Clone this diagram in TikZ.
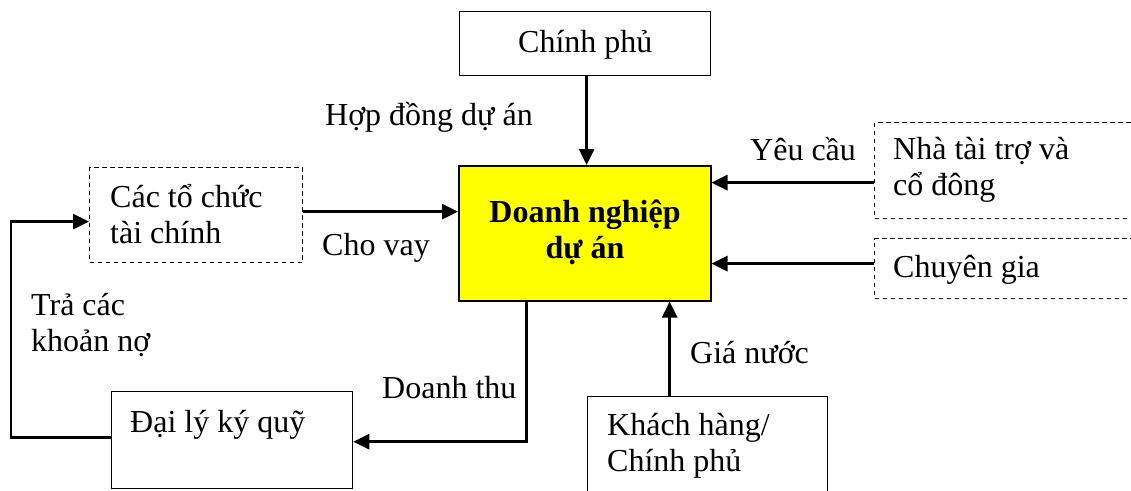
\documentclass[tikz,border=0pt]{standalone}
\usepackage{fontspec}
\setmainfont{Liberation Serif}
\usetikzlibrary{arrows.meta}
\definecolor{boxyellow}{RGB}{255,255,0}
\begin{document}
\begin{tikzpicture}[x=1pt,y=-1pt,
  every node/.style={font=\fontsize{32}{36}\selectfont},
  solidbox/.style={draw, line width=1.3pt, inner sep=0pt, anchor=north west},
  dashbox/.style={draw, line width=1.2pt, dash pattern=on 4.5pt off 3.5pt, inner sep=0pt, anchor=north west},
  mainbox/.style={draw, line width=1.5pt, fill=boxyellow, inner sep=0pt, anchor=north west},
  lbl/.style={inner sep=0pt, anchor=base west, align=left},
  flow/.style={line width=2.8pt, -{Triangle[length=16pt,width=15pt]}}
]
\useasboundingbox (0,0) rectangle (1131,490);

% boxes
\node[solidbox, minimum width=251pt, minimum height=64pt] (cp) at (459,11) {};
\node[mainbox, minimum width=252pt, minimum height=135pt] (dn) at (458,165) {};
\node[dashbox, minimum width=213pt, minimum height=95pt] (ctc) at (89,167) {};
\node[solidbox, minimum width=241pt, minimum height=97pt] (dl) at (111,391) {};
\node[solidbox, minimum width=240pt, minimum height=130pt] (kh) at (587,396) {};
\node[dashbox, minimum width=300pt, minimum height=96pt] (ntt) at (874,122) {};
\node[dashbox, minimum width=300pt, minimum height=60pt] (cg) at (874,238) {};

% box texts (multi-line nodes are placed by the baseline of their last line)
\node[lbl] (tcp) at (518,52) {Chính phủ};
\node[inner sep=0pt, anchor=base, align=center, font=\fontsize{32}{36}\selectfont\bfseries] (tdn) at (585,258) {Doanh nghiệp\\dự án};
\node[lbl] (tctc) at (110,243) {Các tổ chức\\tài chính};
\node[lbl] (tdl) at (130,432) {Đại lý ký quỹ};
\node[lbl] (tkh) at (607,471) {Khách hàng/\\Chính phủ};
\node[lbl] (tntt) at (893,195) {Nhà tài trợ và\\cổ đông};
\node[lbl] (tcg) at (893,277) {Chuyên gia};

% flow labels
\node[lbl] (lhd) at (325,125) {Hợp đồng dự án};
\node[lbl] (lyc) at (750,160) {Yêu cầu};
\node[lbl] (lcv) at (322,255) {Cho vay};
\node[lbl] (lgn) at (690,363) {Giá nước};
\node[lbl] (ldt) at (382,398) {Doanh thu};
\node[lbl] (ltr) at (31,351) {Trả các\\khoản nợ};

% connectors
\draw[flow] ([xshift=1.5pt]cp.south) -- ([xshift=1.5pt]cp.south |- dn.north);
\draw[flow] ([yshift=3.5pt]ctc.east) -- ([yshift=3.5pt]ctc.east -| dn.west);
\draw[flow] ([yshift=-12pt]ntt.west) -- ([yshift=-12pt]ntt.west -| dn.east);
\draw[flow] ([yshift=5pt]cg.west) -- ([yshift=5pt]cg.west -| dn.east);
\draw[flow] ([xshift=-38pt]kh.north) -- ([xshift=-38pt]kh.north |- dn.south);
\draw[flow] ([xshift=-58pt]dn.south) |- ([yshift=-1.5pt]dl.east);
\draw[flow] ([yshift=2.5pt]dl.west) -- ++(-100,0) |- ([yshift=-6.5pt]ctc.west);
\end{tikzpicture}
\end{document}
